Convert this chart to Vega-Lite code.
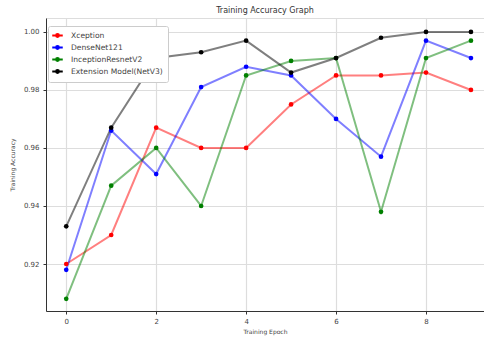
{
  "$schema": "https://vega.github.io/schema/vega-lite/v6.json",
  "width": 438,
  "height": 293,
  "autosize": {"type": "none"},
  "padding": {"left": 46, "top": 18, "right": 0, "bottom": 33},
  "background": "white",
  "title": {"text": "Training Accuracy Graph", "fontSize": 8, "font": "DejaVu Sans", "fontWeight": "normal", "color": "#333", "offset": 3, "anchor": "middle"},
  "data": {"values": [
    {"epoch": 0, "model": "Xception", "acc": 0.920},
    {"epoch": 1, "model": "Xception", "acc": 0.930},
    {"epoch": 2, "model": "Xception", "acc": 0.967},
    {"epoch": 3, "model": "Xception", "acc": 0.960},
    {"epoch": 4, "model": "Xception", "acc": 0.960},
    {"epoch": 5, "model": "Xception", "acc": 0.975},
    {"epoch": 6, "model": "Xception", "acc": 0.985},
    {"epoch": 7, "model": "Xception", "acc": 0.985},
    {"epoch": 8, "model": "Xception", "acc": 0.986},
    {"epoch": 9, "model": "Xception", "acc": 0.980},
    {"epoch": 0, "model": "DenseNet121", "acc": 0.918},
    {"epoch": 1, "model": "DenseNet121", "acc": 0.966},
    {"epoch": 2, "model": "DenseNet121", "acc": 0.951},
    {"epoch": 3, "model": "DenseNet121", "acc": 0.981},
    {"epoch": 4, "model": "DenseNet121", "acc": 0.988},
    {"epoch": 5, "model": "DenseNet121", "acc": 0.985},
    {"epoch": 6, "model": "DenseNet121", "acc": 0.970},
    {"epoch": 7, "model": "DenseNet121", "acc": 0.957},
    {"epoch": 8, "model": "DenseNet121", "acc": 0.997},
    {"epoch": 9, "model": "DenseNet121", "acc": 0.991},
    {"epoch": 0, "model": "InceptionResnetV2", "acc": 0.908},
    {"epoch": 1, "model": "InceptionResnetV2", "acc": 0.947},
    {"epoch": 2, "model": "InceptionResnetV2", "acc": 0.960},
    {"epoch": 3, "model": "InceptionResnetV2", "acc": 0.940},
    {"epoch": 4, "model": "InceptionResnetV2", "acc": 0.985},
    {"epoch": 5, "model": "InceptionResnetV2", "acc": 0.990},
    {"epoch": 6, "model": "InceptionResnetV2", "acc": 0.991},
    {"epoch": 7, "model": "InceptionResnetV2", "acc": 0.938},
    {"epoch": 8, "model": "InceptionResnetV2", "acc": 0.991},
    {"epoch": 9, "model": "InceptionResnetV2", "acc": 0.997},
    {"epoch": 0, "model": "Extension Model(NetV3)", "acc": 0.933},
    {"epoch": 1, "model": "Extension Model(NetV3)", "acc": 0.967},
    {"epoch": 2, "model": "Extension Model(NetV3)", "acc": 0.991},
    {"epoch": 3, "model": "Extension Model(NetV3)", "acc": 0.993},
    {"epoch": 4, "model": "Extension Model(NetV3)", "acc": 0.997},
    {"epoch": 5, "model": "Extension Model(NetV3)", "acc": 0.986},
    {"epoch": 6, "model": "Extension Model(NetV3)", "acc": 0.991},
    {"epoch": 7, "model": "Extension Model(NetV3)", "acc": 0.998},
    {"epoch": 8, "model": "Extension Model(NetV3)", "acc": 1.000},
    {"epoch": 9, "model": "Extension Model(NetV3)", "acc": 1.000}
  ]},
  "encoding": {
    "x": {"field": "epoch", "type": "quantitative",
      "scale": {"domain": [-0.45, 9.29], "nice": false, "zero": false},
      "axis": {"title": "Training Epoch", "values": [0, 2, 4, 6, 8], "format": "d", "labelFontSize": 7, "titleFontSize": 6, "titleFontWeight": "normal", "labelFont": "DejaVu Sans", "titleFont": "DejaVu Sans", "labelColor": "#444", "titleColor": "#444", "gridColor": "#dddddd", "gridWidth": 1.2, "domainColor": "#333", "tickColor": "#333", "tickSize": 3, "labelPadding": 3, "titlePadding": 4}},
    "y": {"field": "acc", "type": "quantitative",
      "scale": {"domain": [0.9038, 1.0048], "nice": false, "zero": false},
      "axis": {"title": "Training Accuracy", "values": [0.92, 0.94, 0.96, 0.98, 1.0], "format": ".2f", "labelFontSize": 7, "titleFontSize": 6, "titleFontWeight": "normal", "labelFont": "DejaVu Sans", "titleFont": "DejaVu Sans", "labelColor": "#444", "titleColor": "#444", "gridColor": "#dddddd", "gridWidth": 1.2, "domainColor": "#333", "tickColor": "#333", "tickSize": 3, "labelPadding": 4, "titlePadding": 8}},
    "color": {"field": "model", "type": "nominal",
      "scale": {"domain": ["Xception", "DenseNet121", "InceptionResnetV2", "Extension Model(NetV3)"], "range": ["#ff0000", "#0000ff", "#008000", "#000000"]},
      "legend": {"title": null, "orient": "none", "legendX": 2, "legendY": 8, "labelFontSize": 7.6, "labelFont": "DejaVu Sans", "labelColor": "#444", "fillColor": "white", "strokeColor": "#cccccc", "padding": 5, "cornerRadius": 2, "rowPadding": 1, "symbolType": "M-1.5,0H1.5M-0.4,0A0.4,0.4,0,1,1,0.4,0A0.4,0.4,0,1,1,-0.4,0Z", "symbolSize": 49, "symbolOpacity": 1, "symbolStrokeWidth": 2, "labelOffset": 9}}
  },
  "layer": [
    {"mark": {"type": "line", "strokeWidth": 2, "opacity": 0.5}},
    {"mark": {"type": "point", "filled": true, "size": 22, "opacity": 1}}
  ],
  "config": {"view": {"stroke": "#dddddd"}}
}
